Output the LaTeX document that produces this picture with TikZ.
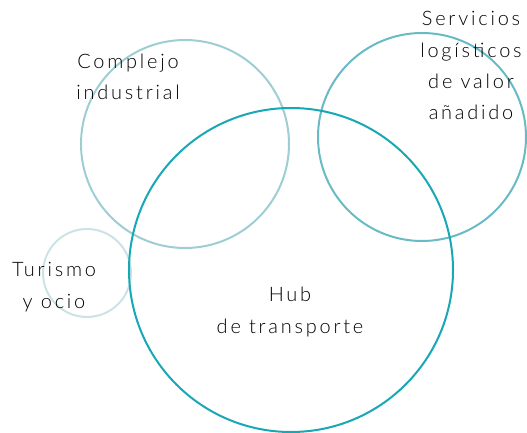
\documentclass[tikz,border=0pt]{standalone}
\usepackage{fontspec}
\setmainfont{Lato}[UprightFont=* Light, LetterSpace=14]
\usetikzlibrary{calc}

\definecolor{hubteal}{RGB}{24,168,181}
\definecolor{indteal}{RGB}{158,206,212}
\definecolor{logteal}{RGB}{104,187,196}
\definecolor{turteal}{RGB}{203,227,231}

\begin{document}
\begin{tikzpicture}[x=1bp,y=-1bp]
\useasboundingbox (0,0) rectangle (527,433);
\coordinate (hub) at (291,270);
\coordinate (ind) at (185,144);
\coordinate (log) at (422,137);
\coordinate (tur) at (87,273);

\tikzset{lbl/.style={align=center,inner sep=0pt,anchor=base,
    font=\fontsize{20}{31.5}\selectfont}}

\newcommand{\ring}[3]{
    \draw[#3,line width=2bp] (#1) circle[radius=#2];
}

% circles
\ring{tur}{44}{turteal}
\ring{ind}{104}{indteal}
\ring{log}{104}{logteal}
\ring{hub}{162}{hubteal}

% labels (base = last line)
\node[lbl] (hubtext) at (290,333) {Hub\\de transporte};
\node[lbl] (indtext) at (128,100) {Complejo\\industrial};
\node[lbl] (logtext) at (471,120) {Servicios\\logísticos\\de valor\\añadido};
\node[lbl] (turtext) at (54,308) {Turismo\\y ocio};
\end{tikzpicture}
\end{document}
